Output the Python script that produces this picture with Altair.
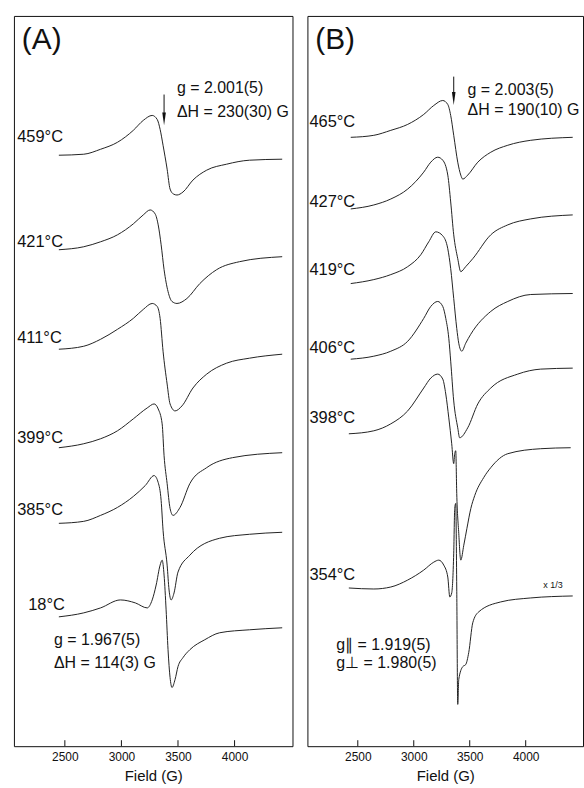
import altair as alt
import pandas as pd

FONT = "Liberation Sans"
FIELD_DOMAIN = [2050, 4512]
Y_DOMAIN = [0, 734]
tick_values = [2500, 3000, 3500, 4000]

# ---------------- Panel A ----------------
a_names = ["459°C", "421°C", "411°C", "399°C", "385°C", "18°C"]
a_offsets = [594, 499, 399, 300, 224, 130]

a459_field = [2447, 2667, 2816, 2965, 3105, 3193, 3272, 3316, 3342, 3368, 3404, 3430, 3460, 3491, 3544, 3632, 3754, 3930, 4132, 4421]
a459_int = [0, 1, 6, 13, 25, 35, 40, 36, 26, 10, -14, -34, -39, -40, -37, -25, -15, -9, -5, -4]

a421_field = [2447, 2667, 2816, 2965, 3105, 3193, 3254, 3298, 3325, 3351, 3377, 3412, 3447, 3491, 3579, 3693, 3842, 4044, 4421]
a421_int = [0, 3, 8, 15, 26, 35, 40, 36, 25, 5, -20, -42, -52, -54, -49, -34, -20, -12, -7]

a411_field = [2447, 2667, 2816, 2965, 3105, 3193, 3272, 3316, 3342, 3368, 3404, 3430, 3474, 3535, 3632, 3754, 3930, 4132, 4421]
a411_int = [0, 3, 10, 20, 31, 40, 46, 43, 31, -2, -35, -55, -62, -57, -39, -25, -14, -9, -5]

a399_field = [2447, 2667, 2816, 2965, 3105, 3228, 3289, 3325, 3360, 3377, 3404, 3430, 3456, 3518, 3605, 3754, 3982, 4421]
a399_int = [0, 4, 9, 17, 29, 40, 44, 39, 24, -8, -36, -61, -68, -60, -36, -20, -10, -5]

a385_field = [2447, 2667, 2816, 2965, 3105, 3211, 3289, 3325, 3351, 3368, 3404, 3421, 3439, 3465, 3500, 3605, 3868, 4132, 4421]
a385_int = [0, 2, 8, 16, 27, 38, 48, 41, 23, -7, -42, -67, -77, -70, -49, -32, -15, -11, -9]

a18_field = [2447, 2667, 2816, 2991, 3123, 3228, 3272, 3307, 3342, 3360, 3377, 3395, 3412, 3430, 3447, 3474, 3500, 3544, 3605, 3737, 3868, 4132, 4421]
a18_int = [0, 4, 9, 17, 14, 9, 17, 32, 52, 57, 42, 7, -33, -61, -71, -63, -50, -41, -33, -23, -16, -13, -11]

a_fields = [a459_field, a421_field, a411_field, a399_field, a385_field, a18_field]
a_ints = [a459_int, a421_int, a411_int, a399_int, a385_int, a18_int]

a_label_field = [2079, 2079, 2079, 2079, 2079, 2176]
a_label_value = [612, 507, 410, 310, 237, 142]

a_notes = ["g = 2.001(5)", "ΔH = 230(30) G", "g = 1.967(5)", "ΔH = 114(3) G"]
a_notes_field = [3491, 3491, 2404, 2404]
a_notes_value = [662, 637, 107, 84]
a_arrow_field = 3377
a_arrow_top, a_arrow_bottom, a_head = 655, 636, 630.5

# ---------------- Panel B ----------------
b_names = ["465°C", "427°C", "419°C", "406°C", "398°C", "354°C"]
b_offsets = [612, 540, 465, 389, 314, 159]

b465_field = [2437, 2643, 2795, 2946, 3089, 3179, 3259, 3304, 3330, 3357, 3393, 3420, 3438, 3482, 3572, 3688, 3840, 4045, 4420]
b465_int = [0, 2, 7, 13, 23, 32, 37, 33, 22, 2, -25, -38, -42, -38, -25, -15, -8, -3, 0]

b427_field = [2437, 2643, 2795, 2946, 3089, 3152, 3214, 3259, 3304, 3330, 3357, 3393, 3420, 3464, 3527, 3688, 3840, 4045, 4420]
b427_int = [0, 4, 10, 20, 37, 47, 52, 49, 34, 7, -26, -50, -63, -58, -50, -26, -16, -10, -6]

b419_field = [2437, 2643, 2795, 2946, 3063, 3134, 3197, 3259, 3304, 3330, 3357, 3384, 3402, 3429, 3464, 3509, 3688, 3840, 4045, 4420]
b419_int = [0, 4, 9, 17, 29, 42, 52, 48, 35, 15, -15, -45, -60, -68, -60, -51, -28, -18, -11, -10]

b406_field = [2437, 2643, 2795, 2946, 3089, 3152, 3214, 3259, 3286, 3313, 3330, 3357, 3393, 3410, 3482, 3572, 3688, 3929, 4134, 4420]
b406_int = [0, 3, 8, 18, 41, 53, 58, 53, 41, 21, -2, -42, -69, -79, -69, -45, -29, -15, -10, -9]

b398_field = [2420, 2643, 2795, 2946, 3089, 3152, 3214, 3259, 3286, 3313, 3339, 3357, 3366, 3375, 3384, 3402, 3420, 3447, 3475, 3510, 3545, 3625, 3688, 3840, 4134, 4402]
b398_int = [0, 3, 10, 23, 46, 56, 60, 55, 40, 16, -10, -30, -20, -17, -60, -100, -127, -112, -95, -75, -62, -44, -34, -20, -15, -14]

b354_field = [2420, 2643, 2795, 2946, 3089, 3179, 3223, 3268, 3304, 3322, 3339, 3357, 3366, 3375, 3384, 3393, 3402, 3438, 3464, 3491, 3527, 3580, 3777, 4045, 4420]
b354_int = [0, -1, 1, 8, 18, 26, 28, 23, 11, -9, -5, 35, 80, 85, 0, -117, -92, -79, -77, -65, -35, -24, -14, -10, -8]

b_fields = [b465_field, b427_field, b419_field, b406_field, b398_field, b354_field]
b_ints = [b465_int, b427_int, b419_int, b406_int, b398_int, b354_int]

b_label_field = [2068] * 6
b_label_value = [627, 547, 479, 400, 330, 172]

b_notes = ["g = 2.003(5)", "ΔH = 190(10) G", "g∥ = 1.919(5)", "g⊥ = 1.980(5)"]
b_notes_field = [3481, 3481, 2308, 2308]
b_notes_value = [660, 639, 102, 84]
b_arrow_field = 3357
b_arrow_top, b_arrow_bottom, b_head = 673, 656, 651
b_scale_note = "x 1/3"
b_scale_field, b_scale_value = 4157, 162

HEAD_SHAPE = "M-0.28,-1L0.28,-1L0,1Z"


def traces_df(names, offsets, fields, ints):
    rows = []
    for n, off, fs, vs in zip(names, offsets, fields, ints):
        for f, v in zip(fs, vs):
            rows.append({"trace": n, "field": f, "value": off + v})
    return pd.DataFrame(rows)


def panel(letter, names, offsets, fields, ints, lab_f, lab_v, notes, notes_f, notes_v,
          arrow_f, arrow_top, arrow_bottom, head_v, width, extra=None):
    x = alt.X("field:Q", scale=alt.Scale(domain=FIELD_DOMAIN, nice=False, zero=False),
              axis=alt.Axis(values=tick_values, ticks=False, grid=False, domain=False,
                            title="Field (G)", format="d", labelFontSize=12,
                            titleFontSize=15, labelPadding=5, titlePadding=6,
                            titleFontWeight="normal", labelColor="#111", titleColor="#111",
                            labelFont=FONT, titleFont=FONT))
    y = alt.Y("value:Q", scale=alt.Scale(domain=Y_DOMAIN, nice=False, zero=False), axis=None)

    lines = alt.Chart(traces_df(names, offsets, fields, ints)).mark_line(
        color="#222", strokeWidth=1, interpolate="monotone").encode(x=x, y=y, detail="trace:N")

    labels = alt.Chart(pd.DataFrame({"field": lab_f, "value": lab_v, "text": names})).mark_text(
        align="left", baseline="middle", font=FONT, fontSize=16.5, color="#111").encode(
        x=x, y=y, text="text:N")

    notes_c = alt.Chart(pd.DataFrame({"field": notes_f, "value": notes_v, "text": notes})).mark_text(
        align="left", baseline="middle", font=FONT, fontSize=16, color="#111").encode(
        x=x, y=y, text="text:N")

    title_c = alt.Chart(pd.DataFrame({"field": [FIELD_DOMAIN[0] + 70], "value": [710], "text": [letter]})).mark_text(
        align="left", baseline="middle", font=FONT, fontSize=30, color="#111").encode(
        x=x, y=y, text="text:N")

    arrow = alt.Chart(pd.DataFrame({"field": [arrow_f], "value": [arrow_top], "value2": [arrow_bottom]})).mark_rule(
        color="#111", strokeWidth=1).encode(x=x, y=y, y2="value2:Q")
    head = alt.Chart(pd.DataFrame({"field": [arrow_f], "value": [head_v]})).mark_point(
        shape=HEAD_SHAPE, filled=True, size=169, color="#111", opacity=1).encode(x=x, y=y)

    ticks = alt.Chart(pd.DataFrame({"field": tick_values, "value": [0] * 4, "value2": [6] * 4})).mark_rule(
        color="#111", strokeWidth=1).encode(x=x, y=y, y2="value2:Q")

    layers = [lines, labels, notes_c, title_c, arrow, head, ticks]
    if extra is not None:
        layers.append(extra)
    return alt.layer(*layers).properties(width=width, height=734)


extra_b = alt.Chart(pd.DataFrame({"field": [b_scale_field], "value": [b_scale_value], "text": [b_scale_note]})).mark_text(
    align="left", baseline="middle", font=FONT, fontSize=9, color="#111").encode(
    x=alt.X("field:Q"), y=alt.Y("value:Q"), text="text:N")

pa = panel("(A)", a_names, a_offsets, a_fields, a_ints, a_label_field, a_label_value,
           a_notes, a_notes_field, a_notes_value, a_arrow_field, a_arrow_top, a_arrow_bottom, a_head, 280)
pb = panel("(B)", b_names, b_offsets, b_fields, b_ints, b_label_field, b_label_value,
           b_notes, b_notes_field, b_notes_value, b_arrow_field, b_arrow_top, b_arrow_bottom, b_head, 277,
           extra=extra_b)

chart = alt.hconcat(pa, pb, spacing=13).properties(
    padding={"left": 13, "top": 13, "right": 0, "bottom": 0}
).configure_view(stroke="#111", strokeWidth=1)

chart.save("out.html", embed_options={"renderer": "svg", "actions": False})
